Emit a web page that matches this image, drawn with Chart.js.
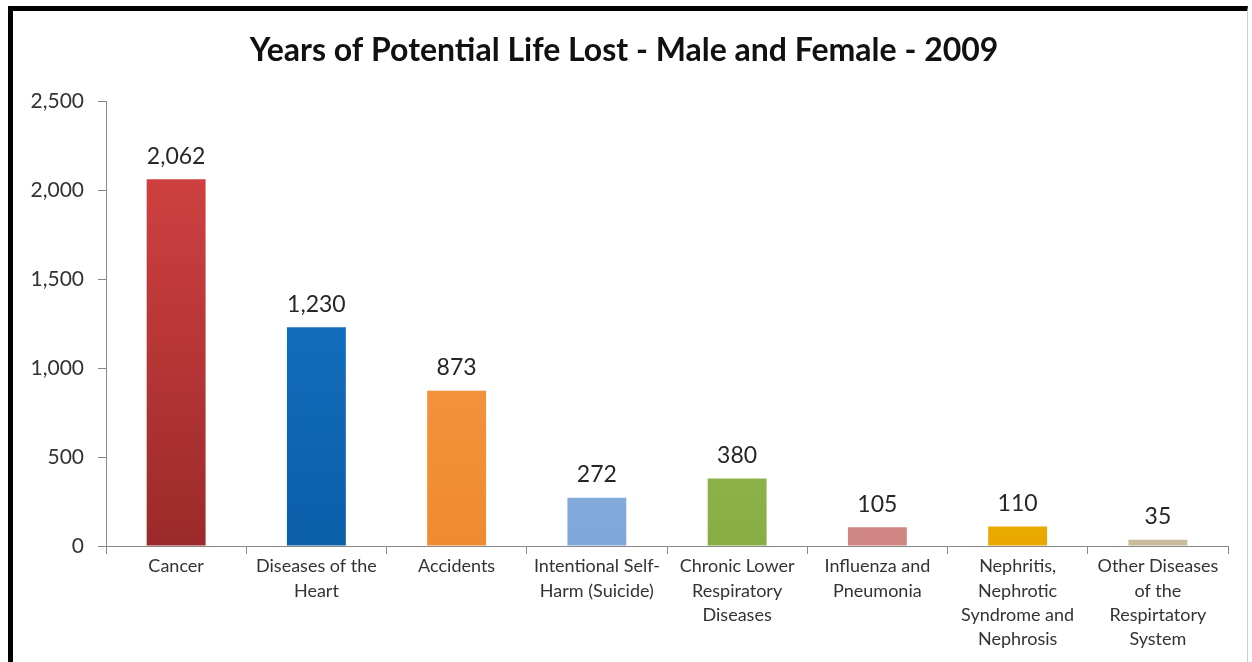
<!DOCTYPE html>
<html>
<head>
<meta charset="utf-8">
<script src="https://cdn.jsdelivr.net/npm/chart.js@4"></script>
<style>
  html, body { margin: 0; padding: 0; background: #fff; }
  #wrap { position: relative; width: 1252px; height: 662px; overflow: hidden; }
  #c { position: absolute; left: 0; top: 0; }
  #frame { position: absolute; left: 8px; top: 6px; width: 1240px; height: 660px;
           border-top: 5px solid #000; border-left: 5px solid #000; border-right: 1px solid #ccc;
           box-sizing: border-box; pointer-events: none; }
</style>
</head>
<body>
<div id="wrap">
  <canvas id="c" width="1252" height="662"></canvas>
  <div id="frame"></div>
</div>
<script>
const categories = [
  ["Cancer"],
  ["Diseases of the", "Heart"],
  ["Accidents"],
  ["Intentional Self-", "Harm (Suicide)"],
  ["Chronic Lower", "Respiratory", "Diseases"],
  ["Influenza and", "Pneumonia"],
  ["Nephritis,", "Nephrotic", "Syndrome and", "Nephrosis"],
  ["Other Diseases", "of the", "Respirtatory", "System"]
];
const values = [2062, 1230, 873, 272, 380, 105, 110, 35];
const yTicks = [0, 500, 1000, 1500, 2000, 2500];
const colorsTop = ["#D94545", "#1A7BD0", "#F9A050", "#9EC2EC", "#A6C964", "#E2A5A3", "#FFCC1A", "#E4DCC8"];
const colorsBottom = ["#9C2A2A", "#0B5EA8", "#F08A30", "#7FA8DA", "#89AD45", "#CF8583", "#E8A800", "#C9BC9A"];

const fontFam = "Lato, 'Open Sans', sans-serif";

const labelPlugin = {
  id: 'valLabels',
  afterDatasetsDraw(chart) {
    const ctx = chart.ctx;
    const meta = chart.getDatasetMeta(0);
    ctx.save();
    ctx.font = "23px " + fontFam;
    ctx.fillStyle = "#262626";
    ctx.textAlign = "center";
    ctx.textBaseline = "middle";
    meta.data.forEach((bar, i) => {
      ctx.fillText(values[i].toLocaleString('en-US'), bar.x, bar.y - 23);
    });
    ctx.restore();
  }
};

new Chart(document.getElementById('c'), {
  type: 'bar',
  data: {
    labels: categories,
    datasets: [{
      data: values,
      backgroundColor: (ctx) => {
        const chart = ctx.chart;
        const ca = chart.chartArea;
        if (!ca) return colorsTop[ctx.dataIndex];
        const g = chart.ctx.createLinearGradient(0, ca.top, 0, ca.bottom);
        g.addColorStop(0, colorsTop[ctx.dataIndex]);
        g.addColorStop(1, colorsBottom[ctx.dataIndex]);
        return g;
      },
      borderWidth: 0,
      barPercentage: 0.42,
      categoryPercentage: 1.0
    }]
  },
  options: {
    responsive: false,
    animation: false,
    devicePixelRatio: 1,
    layout: { padding: { left: 20, right: 24, top: 0, bottom: 0 } },
    plugins: {
      legend: { display: false },
      tooltip: { enabled: false },
      title: {
        display: true,
        text: "Years of Potential Life Lost - Male and Female - 2009",
        color: "#111",
        font: { family: fontFam, size: 32, weight: 'bold', lineHeight: 1.2 },
        padding: { top: 31, bottom: 32 }
      }
    },
    scales: {
      x: {
        afterFit: (s) => { s.height = 116; },
        grid: { display: true, drawOnChartArea: false, drawTicks: true, tickLength: 8, color: "#888", offset: true },
        border: { display: true, color: "#888", width: 1 },
        ticks: {
          color: "#333",
          font: { family: fontFam, size: 18, lineHeight: 1.36 },
          padding: 0,
          maxRotation: 0,
          autoSkip: false
        }
      },
      y: {
        min: 0, max: 2500,
        afterFit: (s) => { s.width = 86; },
        afterBuildTicks: (s) => { s.ticks = yTicks.map(v => ({ value: v })); },
        grid: { display: true, drawOnChartArea: false, drawTicks: true, tickLength: 8, color: "#888" },
        border: { display: true, color: "#888", width: 1 },
        ticks: {
          color: "#333",
          font: { family: fontFam, size: 21 },
          padding: 14,
          callback: (v) => v.toLocaleString('en-US')
        }
      }
    }
  },
  plugins: [labelPlugin]
});
</script>
</body>
</html>
